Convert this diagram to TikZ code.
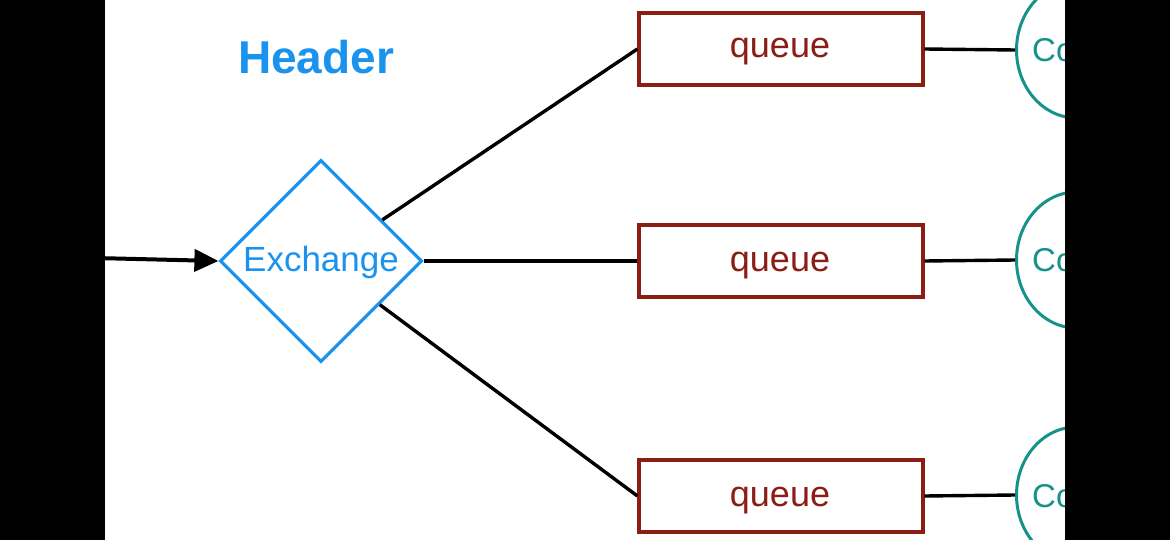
\documentclass[tikz,border=0pt]{standalone}
\usepackage{fontspec}
\setmainfont{Liberation Sans}
\usetikzlibrary{shapes.geometric,arrows.meta}
\definecolor{hblue}{HTML}{1A93EE}
\definecolor{qred}{HTML}{8A1E14}
\definecolor{cteal}{HTML}{16928A}
\tikzset{
  qbox/.style={draw=qred, line width=3.2pt, minimum width=284pt, minimum height=72pt, inner sep=0pt},
  qtext/.style={text=qred, font=\fontsize{36}{40}\selectfont, inner sep=0pt, anchor=base},
  cons/.style={draw=cteal, line width=3pt, ellipse, minimum width=120pt, minimum height=136pt, inner sep=0pt},
  ctext/.style={text=cteal, font=\fontsize{33}{38}\selectfont, inner sep=0pt, anchor=base west},
  link/.style={draw=black, line width=3.4pt},
  bar/.style={fill=black, draw=none}
}
\begin{document}
\begin{tikzpicture}[x=1pt,y=-1pt]
\useasboundingbox (0,0) rectangle (1170,540);
\fill[white] (0,0) rectangle (1170,540);
\node[font=\bfseries\fontsize{46}{50}\selectfont, text=hblue, inner sep=0pt, anchor=base] (hdr) at (316,74) {Header};
\node[diamond, draw=hblue, line width=3.2pt, minimum width=202pt, minimum height=202pt, inner sep=0pt] (ex) at (321,261) {};
\node[text=hblue, font=\fontsize{35}{40}\selectfont, inner sep=0pt, anchor=base] (extxt) at (321,272) {Exchange};
\node[qbox] (q1) at (781,49) {};
\node[qbox] (q2) at (781,261) {};
\node[qbox] (q3) at (781,496) {};
\node[qtext] (q1t) at (780,58) {queue};
\node[qtext] (q2t) at (780,271) {queue};
\node[qtext] (q3t) at (780,506) {queue};
\node[cons, anchor=west] (c1) at (1015,50) {};
\node[cons, anchor=west] (c2) at (1015,260) {};
\node[cons, anchor=west] (c3) at (1015,495) {};
\node[ctext] (c1t) at (1032,62) {Co};
\node[ctext] (c2t) at (1032,271) {Co};
\node[ctext] (c3t) at (1032,507) {Co};
\coordinate (src) at (95,258);
\draw[link, line width=4pt, -{Triangle[length=24pt,width=22pt]}] (src) -- (ex.west);
\draw[link] (ex) -- (q1.west);
\draw[link] (ex.east) -- (q2.west);
\draw[link] (ex) -- (q3.west);
\draw[link] (q1.east) -- (c1.west);
\draw[link] (q2.east) -- (c2.west);
\draw[link] (q3.east) -- (c3.west);
\fill[bar] (0,0) rectangle (105,540);
\fill[bar] (1065,0) rectangle (1170,540);
\end{tikzpicture}
\end{document}
